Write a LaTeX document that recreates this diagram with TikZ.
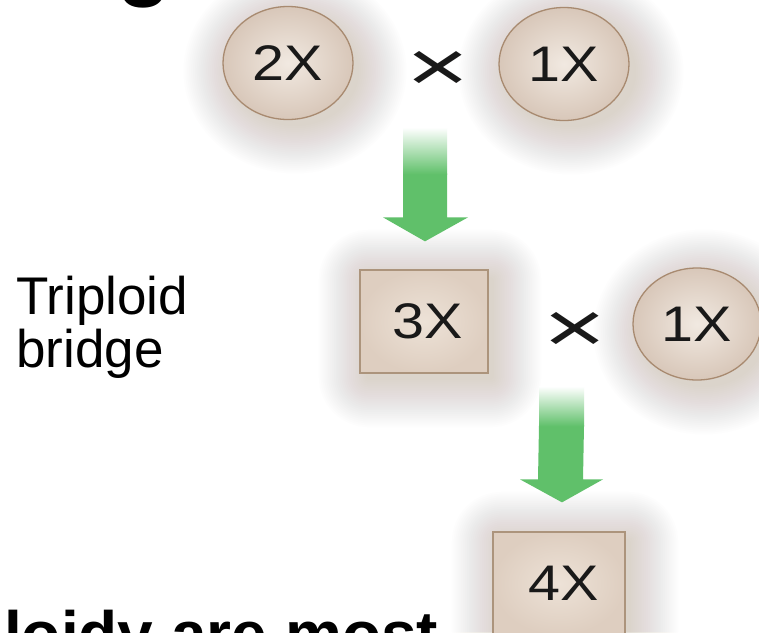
\documentclass[tikz,border=0pt]{standalone}
\usepackage{fontspec}
\setmainfont{Liberation Sans}
\newfontfamily\lblfont[FakeStretch=1.15]{Liberation Sans}
\usetikzlibrary{shapes.geometric,calc,backgrounds}
\definecolor{arrowgreen}{RGB}{96,192,106}
\definecolor{ovalin}{RGB}{241,233,225}
\definecolor{ovalout}{RGB}{216,199,185}
\definecolor{ovalline}{RGB}{168,138,112}
\definecolor{boxin}{RGB}{237,226,215}
\definecolor{boxout}{RGB}{222,206,192}
\definecolor{boxline}{RGB}{172,148,124}
\definecolor{halocol}{RGB}{172,158,132}
\definecolor{inktext}{RGB}{25,25,25}
\tikzset{
  oval/.style={ellipse, draw=ovalline, line width=1.3pt, inner color=ovalin, outer color=ovalout,
    minimum width=130pt, minimum height=113pt, inner sep=0pt, text=inktext,
    font=\lblfont\fontsize{50}{50}\selectfont},
  boxnode/.style={rectangle, draw=boxline, line width=1.3pt, inner color=boxin, outer color=boxout,
    minimum width=128pt, minimum height=103pt, inner sep=0pt, text=inktext,
    font=\lblfont\fontsize{50}{50}\selectfont},
  timesnode/.style={inner sep=0pt, text=inktext, font=\fontsize{72}{72}\selectfont},
  biglbl/.style={inner sep=0pt, text=black, font=\fontsize{53}{53}\selectfont, align=left},
  boldtxt/.style={inner sep=0pt, text=black, font=\bfseries\fontsize{64}{64}\selectfont},
  greenfill/.style={fill=arrowgreen},
  greenfade/.style={top color=white, bottom color=arrowgreen},
  halo/.style={fill=halocol, opacity=0.017}
}
\begin{document}
\begin{tikzpicture}[x=1pt,y=-1pt]
\useasboundingbox (0,0) rectangle (759,632);

% nodes
\node[oval] (n2x) at (288,63) {2X};
\node[timesnode] (t1) at (438,71) {\scalebox{1.5}[1]{×}};
\node[oval] (n1x) at (564,64) {1X};
\node[boxnode] (n3x) at (424,321.5) {\hspace{8pt}3X};
\node[timesnode] (t2) at (575,332) {\scalebox{1.5}[1]{×}};
\node[oval, minimum width=128pt, minimum height=112pt] (n1xb) at (697,324) {1X};
\node[boxnode, minimum width=132pt] (n4x) at (559,583.5) {\hspace{10pt}4X};

\node[biglbl, anchor=north west] (trip) at (16,276) {Triploid\\bridge};
\node[boldtxt, font=\bfseries\fontsize{88}{88}\selectfont, anchor=base west] (ttl) at (117,-11) {g};
\node[boldtxt, anchor=base west] (btm) at (4,656) {loidy are most};

% arrow 1 (2X x 1X -> 3X)
\coordinate (a1s) at ($(n3x.north)+(1,-142)$);
\coordinate (a1m) at ($(n3x.north)+(1,-95)$);
\coordinate (a1t) at ($(n3x.north)+(1,-28)$);
\fill[greenfill] ($(a1m)+(-22,-1)$) -- ($(a1m)+(22,-1)$) -- ($(a1t)+(22,-24)$) -- ($(a1t)+(43,-24)$)
  -- (a1t) -- ($(a1t)+(-42,-24)$) -- ($(a1t)+(-22,-24)$) -- cycle;
\shade[greenfade] ($(a1s)+(-22,0)$) rectangle ($(a1m)+(22,0)$);

% arrow 2 (3X x 1X -> 4X)
\coordinate (a2s) at ($(n4x.north)+(2,-145)$);
\coordinate (a2m) at ($(n4x.north)+(2,-105)$);
\coordinate (a2t) at ($(n4x.north)+(3,-29)$);
\fill[greenfill] ($(a2m)+(-22,-1)$) -- ($(a2m)+(23,-1)$) -- ($(a2t)+(21,-23)$) -- ($(a2t)+(41,-23)$)
  -- (a2t) -- ($(a2t)+(-42,-23)$) -- ($(a2t)+(-24,-23)$) -- cycle;
\shade[greenfade] ($(a2s)+(-22,0)$) rectangle ($(a2m)+(23,0)$);

% background and soft halos
\begin{scope}[on background layer]
  \fill[white] (0,0) rectangle (759,632);
  \foreach \i in {1,...,26} {
    \fill[halo] ($(n2x)+(7,8)$) ellipse ({62pt+1.9pt*\i} and {53pt+1.9pt*\i});
    \fill[halo] ($(n1x)+(7,8)$) ellipse ({63pt+1.9pt*\i} and {53pt+1.9pt*\i});
    \fill[halo] ($(n1xb)+(7,8)$) ellipse ({61pt+1.9pt*\i} and {53pt+1.9pt*\i});
    \fill[halo, rounded corners=1.9pt*\i] ($(n3x.north west)+(9-1.9*\i,10-1.9*\i)$) rectangle ($(n3x.south east)+(3+1.9*\i,4+1.9*\i)$);
    \fill[halo, rounded corners=1.9pt*\i] ($(n4x.north west)+(9-1.9*\i,10-1.9*\i)$) rectangle ($(n4x.south east)+(3+1.9*\i,4+1.9*\i)$);
  }
\end{scope}
\end{tikzpicture}
\end{document}
